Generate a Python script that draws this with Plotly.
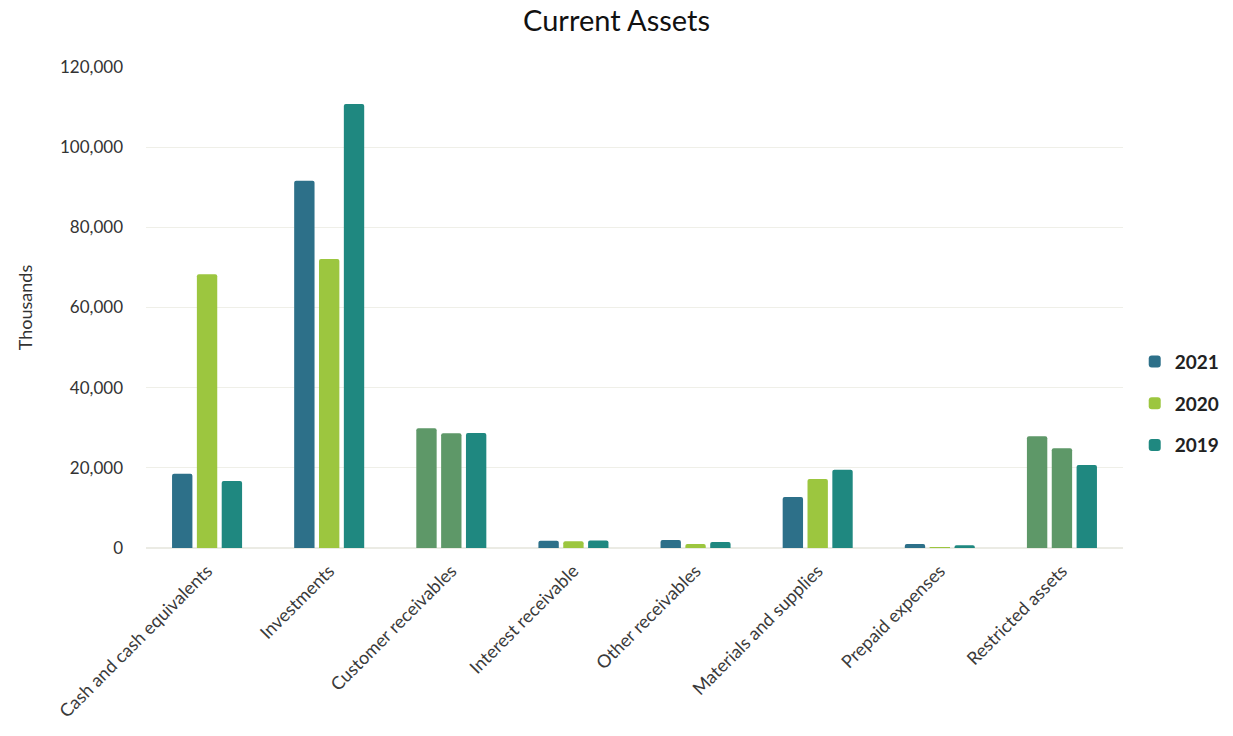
import plotly.graph_objects as go

categories = [
    "Cash and cash equivalents", "Investments", "Customer receivables",
    "Interest receivable", "Other receivables", "Materials and supplies",
    "Prepaid expenses", "Restricted assets",
]
values_2021 = [18500, 91600, 29900, 1800, 2000, 12700, 1000, 27900]
values_2020 = [68300, 72100, 28600, 1700, 1000, 17200, 150, 24900]
values_2019 = [16700, 110800, 28700, 1900, 1500, 19500, 700, 20700]

# Receivable/restricted groups are shaded in a muted green for the two latest years
muted = "#5e9868"
highlight = {"Customer receivables", "Restricted assets"}


def colors(base, recolor):
    return [muted if (recolor and c in highlight) else base for c in categories]


series = [
    ("2021", values_2021, "#2d7089", True),
    ("2020", values_2020, "#9cc63f", True),
    ("2019", values_2019, "#1f8880", False),
]

fig = go.Figure()
for i, (name, vals, col, recolor) in enumerate(series):
    fig.add_trace(go.Bar(
        x=categories, y=vals, name=name,
        marker=dict(color=colors(col, recolor), line=dict(width=0), cornerradius=2),
        legendgroup=f"g{i}",
    ))

fig.update_layout(
    width=1233, height=736,
    paper_bgcolor="white", plot_bgcolor="white",
    font=dict(family="Lato, 'Open Sans', sans-serif", color="#404040"),
    title=dict(text="Current Assets", x=0.5, xanchor="center", y=0.972, yanchor="middle",
               font=dict(size=29, color="#111111")),
    margin=dict(l=146, r=110, t=67, b=188, autoexpand=False),
    barmode="group", bargap=0.39, bargroupgap=0.18,
    legend=dict(x=1.012, y=0.30, xanchor="left", yanchor="middle",
                font=dict(size=19, color="#222222", family="Lato, sans-serif", weight="bold"),
                tracegroupgap=14, itemwidth=30),
    showlegend=True,
)
fig.update_xaxes(tickangle=-45, tickfont=dict(size=18, color="#3a3a3a"),
                 showline=False, showgrid=False, ticks="", automargin=False,
                 ticklabelstandoff=8)
fig.update_yaxes(range=[0, 120000], dtick=20000, tickformat=",",
                 tickfont=dict(size=17, color="#333333"),
                 gridcolor="#efefe8", gridwidth=1, zeroline=True, zerolinecolor="#ebebe4",
                 ticks="", ticklabelstandoff=22, automargin=False,
                 title=dict(text="Thousands", font=dict(size=18, color="#333333"), standoff=22))

fig.write_html("out.html")
